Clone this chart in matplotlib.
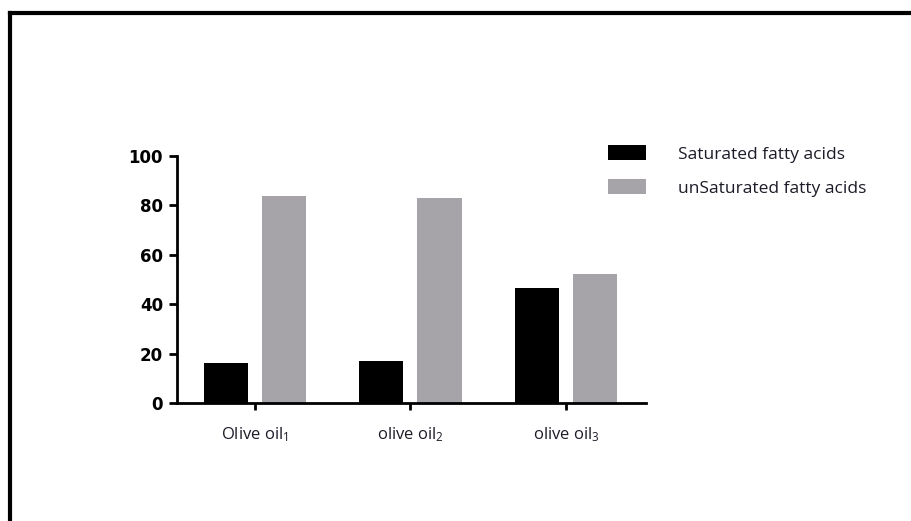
import matplotlib
matplotlib.use("Agg")
import matplotlib.pyplot as plt
from matplotlib.lines import Line2D
import numpy as np

# Fatty acid composition (%) of three olive oil samples
categories = ["Olive oil$_1$", "olive oil$_2$", "olive oil$_3$"]
saturated = [16.3, 17.0, 46.5]
unsaturated = [83.9, 82.8, 52.3]
series_labels = ["Saturated fatty acids", "unSaturated fatty acids"]
y_ticks = [0, 20, 40, 60, 80, 100]

plt.rcParams["mathtext.fontset"] = "custom"
plt.rcParams["mathtext.rm"] = "Open Sans"
plt.rcParams["mathtext.it"] = "Open Sans:italic"
plt.rcParams["mathtext.bf"] = "Open Sans:bold"

W, H = 912, 521
fig = plt.figure(figsize=(W / 100, H / 100), dpi=100)
fig.patch.set_facecolor("white")

# Outer frame: left and top edges only
bx = 10 / W
by = 1 - 13 / H
fig.add_artist(Line2D([bx, bx], [0, by], transform=fig.transFigure,
                      color="black", lw=3, solid_capstyle="projecting"))
fig.add_artist(Line2D([bx, 1.01], [by, by], transform=fig.transFigure,
                      color="black", lw=3, solid_capstyle="projecting"))

ax = fig.add_axes([177 / W, 118 / H, (646 - 177) / W, 247 / H])

x = np.arange(len(categories))
offset = 0.187
width = 0.283
black = "#000000"
grey = "#a6a4a9"
b1 = ax.bar(x - offset, saturated, width, color=black, label=series_labels[0])
b2 = ax.bar(x + offset, unsaturated, width, color=grey, label=series_labels[1])

ax.set_xlim(-0.5, 2.514)
ax.set_ylim(0, 100)

for s in ["top", "right"]:
    ax.spines[s].set_visible(False)
for s in ["left", "bottom"]:
    ax.spines[s].set_linewidth(2)
    ax.spines[s].set_color("black")

ax.set_yticks(y_ticks)
ax.set_yticklabels([str(v) for v in y_ticks], fontfamily="DejaVu Sans",
                   fontweight="bold", fontsize=12)
ax.tick_params(axis="y", direction="out", length=6, width=2, pad=4)

ax.set_xticks(x)
ax.set_xticklabels(categories, fontfamily="Open Sans", fontsize=12,
                   color="#1c1c28")
ax.tick_params(axis="x", direction="out", length=5, width=2, pad=11)

fs_leg = 12.5
px = fs_leg * 100 / 72
leg = fig.legend(handles=[b1, b2], labels=series_labels,
                 loc="upper left", bbox_to_anchor=(608 / W, 1 - 145 / H),
                 bbox_transform=fig.transFigure, frameon=False,
                 borderpad=0, borderaxespad=0,
                 handlelength=38 / px, handleheight=17 / px,
                 handletextpad=32 / px, labelspacing=0.95,
                 prop={"family": "Open Sans", "size": fs_leg})
for t in leg.get_texts():
    t.set_color("#1c1c28")

fig.savefig("out.png", dpi=100, facecolor="white")
